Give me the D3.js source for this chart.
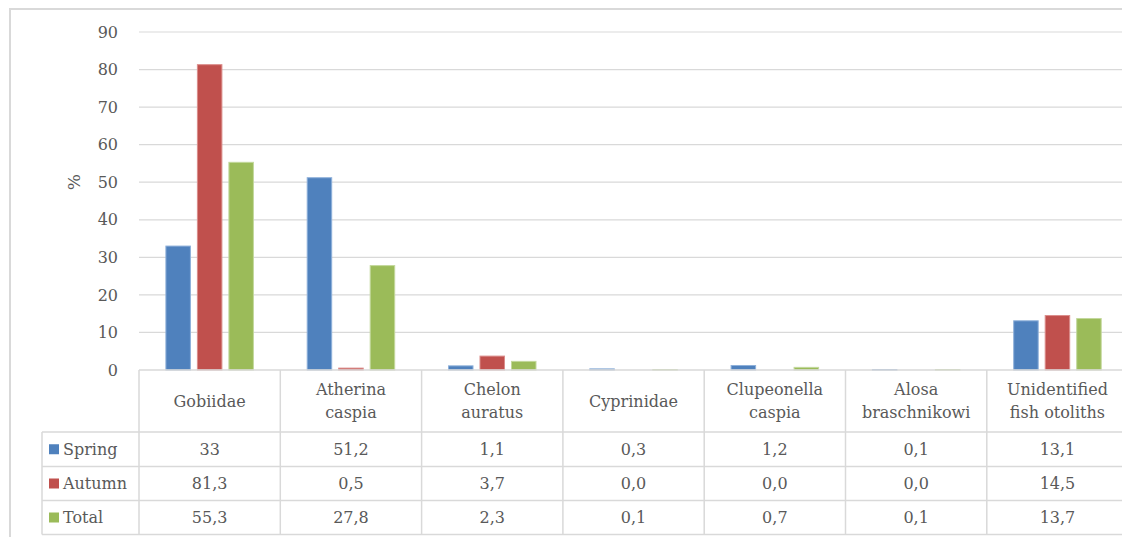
<!DOCTYPE html>
<html>
<head>
<meta charset="utf-8">
<script src="https://cdn.jsdelivr.net/npm/d3@7"></script>
<style>
  body { margin: 0; background: #fff; }
  text { font-family: "DejaVu Serif", serif; fill: #595959; }
</style>
</head>
<body>
<div id="chart"></div>
<script>
// data
const categories = [["Gobiidae"], ["Atherina", "caspia"], ["Chelon", "auratus"], ["Cyprinidae"],
                    ["Clupeonella", "caspia"], ["Alosa", "braschnikowi"], ["Unidentified", "fish otoliths"]];
const seriesNames = ["Spring", "Autumn", "Total"];
const spring = [33, 51.2, 1.1, 0.3, 1.2, 0.1, 13.1];
const autumn = [81.3, 0.5, 3.7, 0.0, 0.0, 0.0, 14.5];
const total  = [55.3, 27.8, 2.3, 0.1, 0.7, 0.1, 13.7];
const springLabels = ["33", "51,2", "1,1", "0,3", "1,2", "0,1", "13,1"];
const autumnLabels = ["81,3", "0,5", "3,7", "0,0", "0,0", "0,0", "14,5"];
const totalLabels  = ["55,3", "27,8", "2,3", "0,1", "0,7", "0,1", "13,7"];
const yTicks = [0, 10, 20, 30, 40, 50, 60, 70, 80, 90];

const colors = ["#4f81bd", "#c0504d", "#9bbb59"];
const strokes = ["#8eb0da", "#db8d8b", "#c3d89c"];
const seriesValues = [spring, autumn, total];
const seriesLabels = [springLabels, autumnLabels, totalLabels];

const W = 1122, H = 537;
const plotLeft = 139, catW = 141.3, plotTop = 32, plotBottom = 370;
const legendLeft = 42;
const rowTops = [370, 432, 466.5, 500.5, 534.5];

const svg = d3.select("#chart").append("svg")
  .attr("width", W).attr("height", H);

// outer frame
svg.append("path")
  .attr("d", `M10,${H} L10,9 L${W},9`)
  .attr("fill", "none").attr("stroke", "#d9d9d9").attr("stroke-width", 2);

const keys = categories.map((c, i) => i);
const x = d3.scaleBand().domain(keys)
  .range([plotLeft, plotLeft + catW * categories.length]);
const xInner = d3.scaleBand().domain(d3.range(3))
  .range([0, x.bandwidth()]).paddingInner(0.222).paddingOuter(0.854);
const y = d3.scaleLinear().domain([0, 90]).range([plotBottom, plotTop]);

// gridlines
svg.append("g").selectAll("line").data(yTicks.slice(1)).join("line")
  .attr("x1", plotLeft).attr("x2", W)
  .attr("y1", d => y(d)).attr("y2", d => y(d))
  .attr("stroke", "#d9d9d9").attr("stroke-width", 1.2);

// y axis labels
const yAxis = svg.append("g")
  .attr("transform", `translate(${plotLeft - 21},0)`)
  .call(d3.axisLeft(y).tickValues(yTicks).tickSize(0).tickPadding(0));
yAxis.select(".domain").remove();
yAxis.selectAll("text")
  .style("font-family", "DejaVu Serif").style("font-size", "16px").attr("fill", "#595959");

svg.append("text")
  .attr("transform", `translate(74,${y(50)}) rotate(-90)`)
  .attr("text-anchor", "middle").attr("dy", "0.35em")
  .style("font-size", "17px").text("%");

// bars
seriesValues.forEach((vals, s) => {
  svg.append("g").selectAll("rect").data(vals).join("rect")
    .attr("x", (d, i) => x(i) + xInner(s))
    .attr("width", xInner.bandwidth())
    .attr("y", d => y(d))
    .attr("height", d => plotBottom - y(d))
    .attr("fill", colors[s])
    .attr("stroke", d => d > 0 ? strokes[s] : "none")
    .attr("stroke-width", 1);
});

// data table lines
const tbl = svg.append("g").attr("stroke", "#d9d9d9").attr("stroke-width", 1.5);
tbl.append("line").attr("x1", plotLeft).attr("x2", W).attr("y1", rowTops[0]).attr("y2", rowTops[0]);
rowTops.slice(1).forEach(ry => {
  tbl.append("line").attr("x1", legendLeft).attr("x2", W).attr("y1", ry).attr("y2", ry);
});
tbl.append("line").attr("x1", legendLeft).attr("x2", legendLeft).attr("y1", rowTops[1]).attr("y2", rowTops[4]);
keys.forEach(i => {
  tbl.append("line").attr("x1", x(i)).attr("x2", x(i)).attr("y1", rowTops[0]).attr("y2", rowTops[4]);
});

// category headers
const hdrMid = (rowTops[0] + rowTops[1]) / 2;
svg.append("g").selectAll("text").data(categories).join("text")
  .attr("x", (d, i) => x(i) + x.bandwidth() / 2)
  .attr("y", hdrMid)
  .attr("text-anchor", "middle")
  .style("font-size", "16px")
  .each(function(d) {
    const t = d3.select(this);
    d.forEach((line, k) => {
      t.append("tspan")
        .attr("x", t.attr("x"))
        .attr("dy", k === 0 ? `${0.35 - (d.length - 1) * 0.7}em` : "1.4em")
        .text(line);
    });
  });

// series rows
seriesNames.forEach((name, s) => {
  const mid = (rowTops[s + 1] + rowTops[s + 2]) / 2;
  svg.append("rect")
    .attr("x", 49).attr("y", mid - 5).attr("width", 10).attr("height", 10)
    .attr("fill", colors[s]);
  svg.append("text")
    .attr("x", 63).attr("y", mid).attr("dy", "0.35em")
    .style("font-size", "16px").text(name);
  svg.append("g").selectAll("text").data(seriesLabels[s]).join("text")
    .attr("x", (d, i) => x(i) + x.bandwidth() / 2)
    .attr("y", mid).attr("dy", "0.35em")
    .attr("text-anchor", "middle")
    .style("font-size", "16px")
    .text(d => d);
});
</script>
</body>
</html>
